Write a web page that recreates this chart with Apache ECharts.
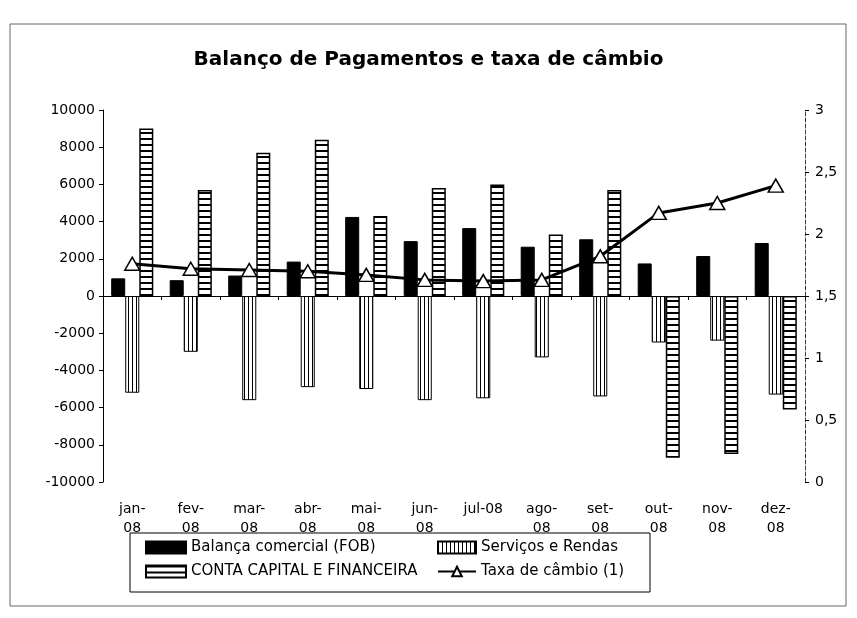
<!DOCTYPE html>
<html>
<head>
<meta charset="utf-8">
<script src="https://cdn.jsdelivr.net/npm/echarts@6/dist/echarts.min.js"></script>
<style>
  html, body { margin: 0; padding: 0; background: #fff; }
  #chart { width: 857px; height: 618px; }
</style>
</head>
<body>
<div id="chart"></div>
<script>
  const months = ['jan-\n08', 'fev-\n08', 'mar-\n08', 'abr-\n08', 'mai-\n08', 'jun-\n08',
    'jul-08', 'ago-\n08', 'set-\n08', 'out-\n08', 'nov-\n08', 'dez-\n08'];
  const balancaComercial = [950, 850, 1100, 1850, 4250, 2950, 3650, 2650, 3050, 1750, 2150, 2850];
  const servicosRendas = [-5200, -3000, -5600, -4900, -5000, -5600, -5500, -3300, -5400, -2500, -2400, -5300];
  const contaCapital = [9000, 5700, 7700, 8400, 4300, 5800, 6000, 3300, 5700, -8700, -8500, -6100];
  const taxaCambio = [1.76, 1.72, 1.71, 1.70, 1.67, 1.63, 1.62, 1.63, 1.82, 2.17, 2.25, 2.39];

  // pattern fills like the old excel bars
  function stripes(horizontal) {
    const c = document.createElement('canvas');
    c.width = horizontal ? 8 : 4;
    c.height = horizontal ? 6 : 8;
    const ctx = c.getContext('2d');
    ctx.fillStyle = '#fff';
    ctx.fillRect(0, 0, c.width, c.height);
    ctx.fillStyle = '#000';
    if (horizontal) {
      ctx.fillRect(0, 0, 8, 2);
    } else {
      ctx.fillRect(0, 0, 1, 8);
    }
    return c;
  }

  const font = 'DejaVu Sans';

  const option = {
    animation: false,
    backgroundColor: '#fff',
    title: {
      text: 'Balanço de Pagamentos e taxa de câmbio',
      left: 'center',
      top: 45,
      textStyle: { fontFamily: font, fontSize: 20, fontWeight: 'bold', color: '#000' }
    },
    legend: [
      {
        orient: 'vertical',
        left: 140,
        top: 535,
        itemWidth: 40,
        itemHeight: 12,
        itemGap: 9,
        textStyle: { fontFamily: font, fontSize: 15, color: '#000' },
        data: [
          { name: 'Balança comercial (FOB)', icon: 'rect' },
          { name: 'CONTA CAPITAL E FINANCEIRA', icon: 'rect' }
        ]
      },
      {
        orient: 'vertical',
        left: 432,
        top: 535,
        itemWidth: 38,
        itemHeight: 12,
        itemGap: 9,
        textStyle: { fontFamily: font, fontSize: 15, color: '#000' },
        data: [
          { name: 'Serviços e Rendas', icon: 'rect' },
          'Taxa de câmbio (1)'
        ]
      }
    ],
    graphic: [
      {
        type: 'rect',
        shape: { x: 10, y: 24, width: 836, height: 582 },
        style: { fill: 'none', stroke: '#666', lineWidth: 1 }
      },
      {
        type: 'rect',
        shape: { x: 130, y: 533, width: 520, height: 59 },
        style: { fill: 'none', stroke: '#000', lineWidth: 1 }
      }
    ],
    grid: { left: 103, right: 52, top: 110, bottom: 136 },
    xAxis: [
      {
        type: 'category',
        data: months,
        position: 'bottom',
        axisLine: { onZero: true, onZeroAxisIndex: 0, lineStyle: { color: '#000', width: 1 } },
        axisTick: { show: true, length: 4, lineStyle: { color: '#000' } },
        axisLabel: { show: false }
      },
      {
        type: 'category',
        data: months,
        position: 'bottom',
        axisLine: { show: false, onZero: false },
        axisTick: { show: false },
        axisLabel: {
          interval: 0,
          margin: 18,
          fontFamily: font,
          fontSize: 14,
          lineHeight: 19,
          color: '#000'
        }
      }
    ],
    yAxis: [
      {
        type: 'value',
        min: -10000,
        max: 10000,
        interval: 2000,
        axisLine: { show: true, lineStyle: { color: '#000' } },
        axisTick: { show: true, length: 4, lineStyle: { color: '#000' } },
        splitLine: { show: false },
        axisLabel: {
          margin: 8,
          fontFamily: font,
          fontSize: 14,
          color: '#000',
          formatter: function (v) { return String(v); }
        }
      },
      {
        type: 'value',
        min: 0,
        max: 3,
        interval: 0.5,
        position: 'right',
        axisLine: { show: true, lineStyle: { color: '#444', type: 'dashed', width: 1 } },
        axisTick: { show: true, length: 4, lineStyle: { color: '#000' } },
        splitLine: { show: false },
        axisLabel: {
          margin: 10,
          fontFamily: font,
          fontSize: 14,
          color: '#000',
          formatter: function (v) { return String(v).replace('.', ','); }
        }
      }
    ],
    series: [
      {
        name: 'Balança comercial (FOB)',
        type: 'bar',
        data: balancaComercial,
        barGap: '0%',
        barCategoryGap: '28%',
        itemStyle: { color: '#000', borderColor: '#000', borderWidth: 1 }
      },
      {
        name: 'Serviços e Rendas',
        type: 'bar',
        data: servicosRendas,
        barGap: '0%',
        barCategoryGap: '28%',
        itemStyle: {
          color: { image: stripes(false), repeat: 'repeat' },
          borderColor: '#000',
          borderWidth: 1
        }
      },
      {
        name: 'CONTA CAPITAL E FINANCEIRA',
        type: 'bar',
        data: contaCapital,
        barGap: '0%',
        barCategoryGap: '28%',
        itemStyle: {
          color: { image: stripes(true), repeat: 'repeat' },
          borderColor: '#000',
          borderWidth: 1.5
        }
      },
      {
        name: 'Taxa de câmbio (1)',
        type: 'line',
        yAxisIndex: 1,
        data: taxaCambio,
        symbol: 'triangle',
        symbolSize: [15, 13],
        lineStyle: { color: '#000', width: 3 },
        itemStyle: { color: '#fff', borderColor: '#000', borderWidth: 1.5 },
        z: 5
      }
    ]
  };

  const chart = echarts.init(document.getElementById('chart'));
  chart.setOption(option, true);
</script>
</body>
</html>
